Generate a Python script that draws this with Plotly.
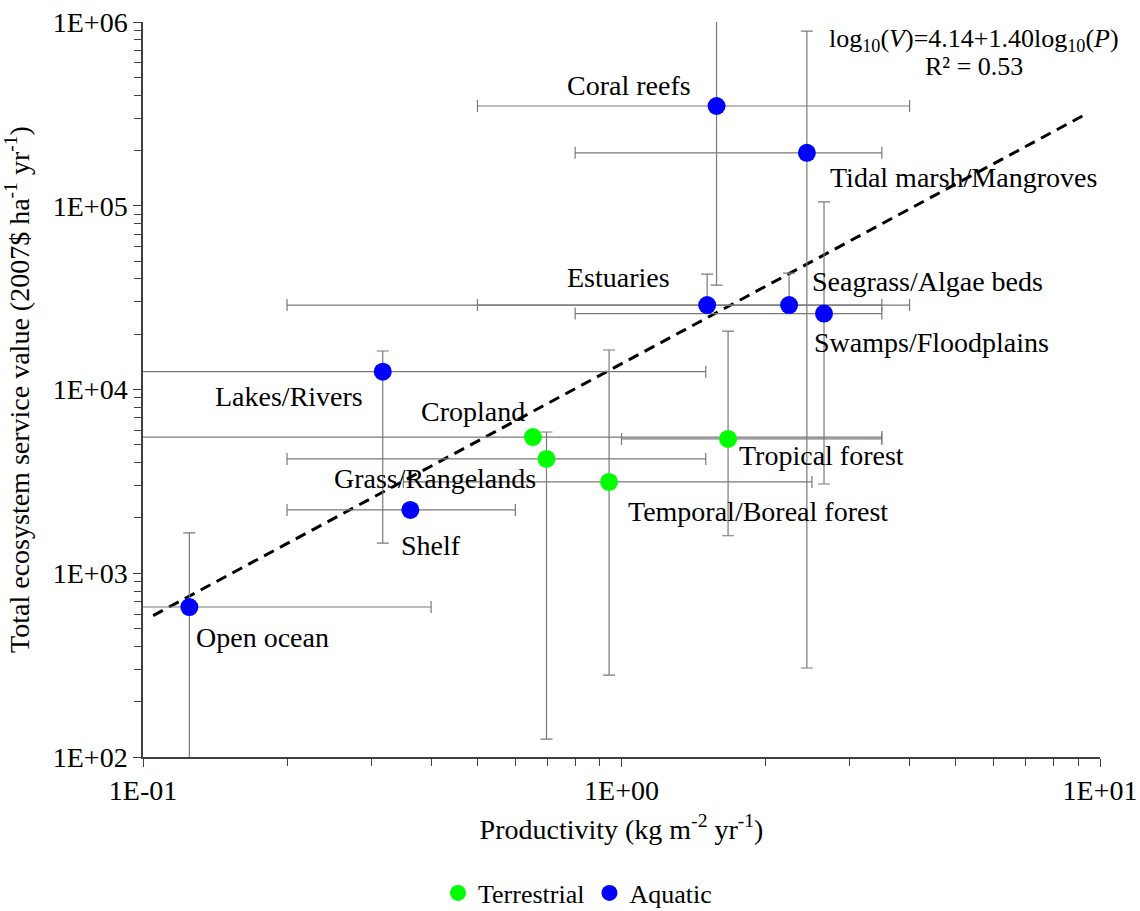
import math
import plotly.graph_objects as go

# ---------------- data ----------------
terr_names = ["Cropland", "Grass/Rangelands", "Temporal/Boreal forest", "Tropical forest"]
terr_P = [0.653, 0.697, 0.942, 1.67]
terr_P_lo = [0.05, 0.2, 0.35, 1.0]
terr_P_hi = [3.5, 1.5, 2.5, 3.5]
terr_V = [5510, 4190, 3140, 5380]
terr_V_lo = [5510, 125, 279, 1600]
terr_V_hi = [5510, 5870, 16400, 20800]

aqua_names = ["Open ocean", "Shelf", "Lakes/Rivers", "Estuaries", "Seagrass/Algae beds",
              "Swamps/Floodplains", "Tidal marsh/Mangroves", "Coral reefs"]
aqua_P = [0.125, 0.362, 0.317, 1.51, 2.24, 2.65, 2.44, 1.58]
aqua_P_lo = [0.05, 0.2, 0.05, 0.2, 0.5, 0.8, 0.8, 0.5]
aqua_P_hi = [0.4, 0.6, 1.5, 3.5, 4.0, 3.5, 3.5, 4.0]
aqua_V = [655, 2210, 12500, 28800, 28800, 25900, 194000, 349000]
aqua_V_lo = [50, 2210, 1460, 28800, 28800, 3060, 305, 37000]
aqua_V_hi = [1660, 2210, 16200, 42500, 43000, 105000, 893000, 2000000]

fit_intercept = 4.14
fit_slope = 1.40
fit_P_range = [0.105, 9.3]

x_tickvals = [0.1, 1, 10]
x_ticktext = ["1E-01", "1E+00", "1E+01"]
y_tickvals = [100, 1000, 10000, 100000, 1000000]
y_ticktext = ["1E+02", "1E+03", "1E+04", "1E+05", "1E+06"]

# label placement styles (anchor, pixel shifts)
terr_lab = [("right", -6, 26), ("right", -8, -20), ("left", 17, -30), ("left", 9, -17)]
aqua_lab = [("left", 5, -30), ("left", -11, -36), ("right", -18, -25), ("right", -35, 28),
            ("left", 21, 24), ("left", -12, -29), ("left", 21, -25), ("right", -24, 21)]

FONT = "Liberation Serif, Times New Roman, serif"
FS = 28
GREEN = "#00FF00"
BLUE = "#0000FF"
EGRAY = "#7a7a7a"


def err(vals, lo, hi):
    plus = [h - v for v, h in zip(vals, hi)]
    minus = [v - l for v, l in zip(vals, lo)]
    return plus, minus


fig = go.Figure()

fit_V = [10 ** (fit_intercept + fit_slope * math.log10(p)) for p in fit_P_range]
fig.add_trace(go.Scatter(x=fit_P_range, y=fit_V, mode="lines", showlegend=False,
                         line=dict(color="black", width=3, dash="11px,7px"), hoverinfo="skip"))

for name, P, Plo, Phi, V, Vlo, Vhi, col in [
    ("Terrestrial", terr_P, terr_P_lo, terr_P_hi, terr_V, terr_V_lo, terr_V_hi, GREEN),
    ("Aquatic", aqua_P, aqua_P_lo, aqua_P_hi, aqua_V, aqua_V_lo, aqua_V_hi, BLUE),
]:
    xp, xm = err(P, Plo, Phi)
    yp, ym = err(V, Vlo, Vhi)
    fig.add_trace(go.Scatter(
        x=P, y=V, mode="markers", name=name,
        marker=dict(color=col, size=18, line=dict(width=0)),
        error_x=dict(type="data", array=xp, arrayminus=xm, color=EGRAY, thickness=1.2, width=6),
        error_y=dict(type="data", array=yp, arrayminus=ym, color=EGRAY, thickness=1.2, width=6),
    ))

annotations = []
for names, P, V, labs in [(terr_names, terr_P, terr_V, terr_lab), (aqua_names, aqua_P, aqua_V, aqua_lab)]:
    for n, p, v, (anc, dx, dy) in zip(names, P, V, labs):
        annotations.append(dict(x=math.log10(p), y=math.log10(v), xref="x", yref="y", text=n,
                                showarrow=False, xanchor=anc, yanchor="middle", xshift=dx, yshift=dy,
                                font=dict(family=FONT, size=FS, color="black")))

annotations.append(dict(x=0.8685, y=0.9755, xref="paper", yref="paper",
                        text="log<sub>10</sub>(<i>V</i>)=4.14+1.40log<sub>10</sub>(<i>P</i>)",
                        showarrow=False, xanchor="center", yanchor="middle",
                        font=dict(family=FONT, size=26, color="black")))
annotations.append(dict(x=0.8685, y=0.9388, xref="paper", yref="paper", text="R² = 0.53",
                        showarrow=False, xanchor="center", yanchor="middle",
                        font=dict(family=FONT, size=26, color="black")))

axis_common = dict(showgrid=False, zeroline=False, showline=True, linecolor="#404040", linewidth=1.5,
                   ticks="outside", ticklen=8, tickcolor="#404040", tickwidth=1.2, automargin=False,
                   tickfont=dict(family=FONT, size=FS, color="black"), tickmode="array")

fig.update_xaxes(type="log", range=[-1, 1], tickvals=x_tickvals, ticktext=x_ticktext,
                 minor=dict(ticks="outside", ticklen=7, tickcolor="#404040", tickwidth=1.2,
                            tickvals=[m * 10 ** e for e in (-1, 0) for m in range(2, 10)]),
                 title=dict(text="Productivity (kg m<sup>-2</sup> yr<sup>-1</sup>)",
                            font=dict(family=FONT, size=FS, color="black"), standoff=14),
                 **axis_common)
fig.update_yaxes(type="log", range=[2, 6], tickvals=y_tickvals, ticktext=y_ticktext,
                 minor=dict(ticks="outside", ticklen=7, tickcolor="#404040", tickwidth=1.2,
                            tickvals=[m * 10 ** e for e in (2, 3, 4, 5) for m in range(2, 10)]),
                 title=dict(text="Total ecosystem service value (2007$ ha<sup>-1</sup> yr<sup>-1</sup>)",
                            font=dict(family=FONT, size=FS, color="black"), standoff=21),
                 **axis_common)

fig.update_layout(
    width=1140, height=911,
    margin=dict(l=143, r=40, t=22, b=154, autoexpand=False),
    paper_bgcolor="white", plot_bgcolor="white",
    font=dict(family=FONT, size=FS, color="black"),
    annotations=annotations,
    legend=dict(orientation="h", x=0.454, xanchor="center", y=(911 - 893) / 911, yanchor="middle",
                yref="container",
                font=dict(family=FONT, size=26, color="black"), itemwidth=30,
                tracegroupgap=0, bgcolor="rgba(0,0,0,0)"),
    showlegend=True,
)

fig.write_html("out.html")
